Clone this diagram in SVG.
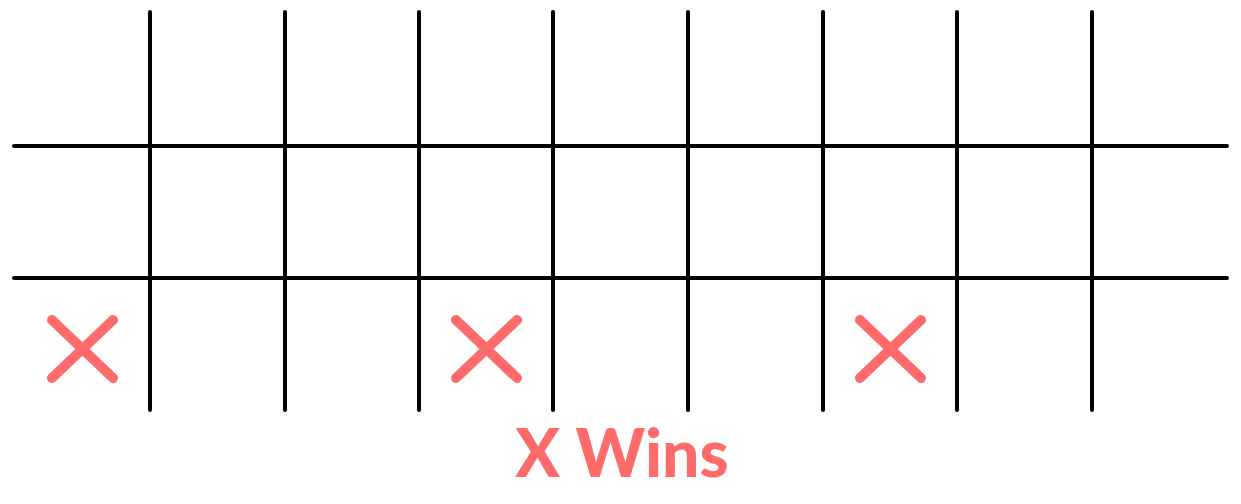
<svg xmlns="http://www.w3.org/2000/svg" width="1241" height="504" viewBox="0 0 1241 504">
<style>
.g{stroke:#000;stroke-width:4;stroke-linecap:round;fill:none}
.x{stroke:#ff6b6b;stroke-width:10;stroke-linecap:round;fill:none}
.t{font-family:Lato,"Open Sans",sans-serif;font-weight:900;font-size:66px;fill:#ff6b6b}
</style>
<rect width="1241" height="504" fill="#fff"/>
<g id="grid">
<line class="g" x1="150" y1="12" x2="150" y2="410"/>
<line class="g" x1="285" y1="12" x2="285" y2="410"/>
<line class="g" x1="419" y1="12" x2="419" y2="410"/>
<line class="g" x1="553" y1="12" x2="553" y2="410"/>
<line class="g" x1="688" y1="12" x2="688" y2="410"/>
<line class="g" x1="823" y1="12" x2="823" y2="410"/>
<line class="g" x1="957" y1="12" x2="957" y2="410"/>
<line class="g" x1="1092" y1="12" x2="1092" y2="410"/>
<line class="g" x1="14" y1="146" x2="1227" y2="146"/>
<line class="g" x1="14" y1="278" x2="1227" y2="278"/>
</g>
<g id="x1"><path class="x" d="M52 320L113 378M113 320L52 378"/></g>
<g id="x2"><path class="x" d="M456 320L517 378M517 320L456 378"/></g>
<g id="x3"><path class="x" d="M860 320L921 378M921 320L860 378"/></g>
<g id="label"><text class="t" x="622" y="477" text-anchor="middle">X Wins</text></g>
</svg>
